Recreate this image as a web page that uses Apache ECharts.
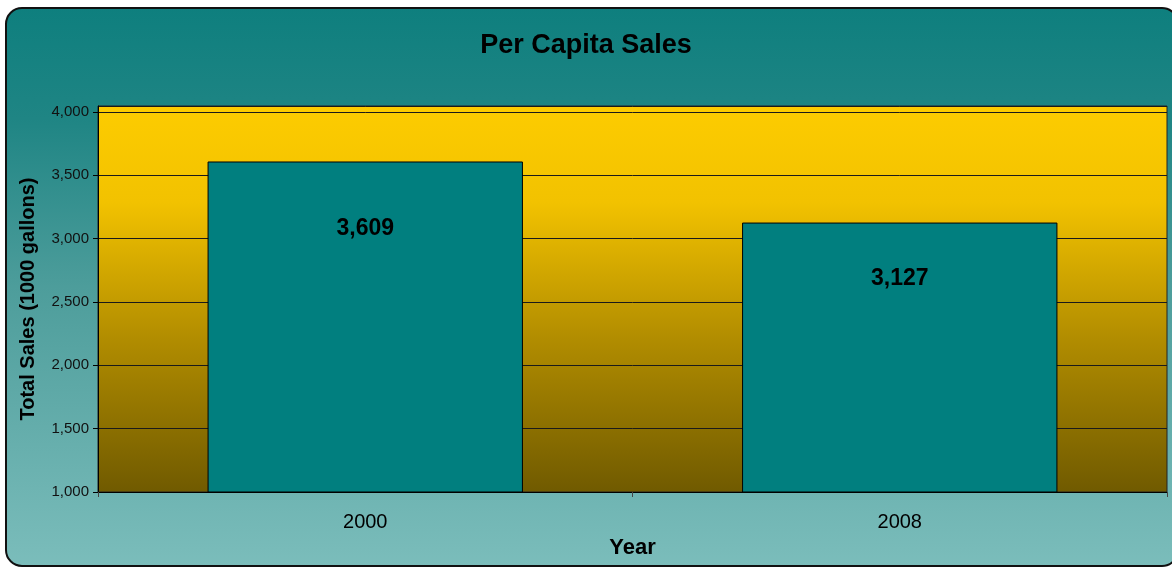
<!DOCTYPE html>
<html>
<head>
<meta charset="utf-8">
<script src="https://cdn.jsdelivr.net/npm/echarts@6/dist/echarts.min.js"></script>
<style>
  html, body { margin: 0; padding: 0; background: #ffffff; }
  #chart { width: 1172px; height: 567px; }
</style>
</head>
<body>
<div id="chart"></div>
<script>
// Per capita sales, in thousands of gallons
const years = ['2000', '2008'];
const sales = [3609, 3127];
const yTicks = { min: 1000, max: 4047, step: 500 };
// label distance below each bar's top edge
const labelGaps = [56, 45];

const chart = echarts.init(document.getElementById('chart'), null, { renderer: 'canvas' });

const fontFamily = 'Arial, "Liberation Sans", sans-serif';

chart.setOption({
  animation: false,
  graphic: [{
    type: 'rect',
    z: -10,
    silent: true,
    shape: { x: 6, y: 8, width: 1172, height: 558, r: 16 },
    style: {
      fill: new echarts.graphic.LinearGradient(0, 0, 0, 1, [
        { offset: 0, color: '#0e7f7e' },
        { offset: 0.2, color: '#1f8584' },
        { offset: 0.5, color: '#4d9d9b' },
        { offset: 1, color: '#7bbdbb' }
      ]),
      stroke: '#111111',
      lineWidth: 2
    }
  }],
  title: {
    text: 'Per Capita Sales',
    left: 'center',
    top: 27,
    textStyle: { fontFamily, fontSize: 27, fontWeight: 'bold', color: '#000000' }
  },
  grid: {
    left: 98,
    right: 5,
    top: 106,
    bottom: 75,
    show: true,
    borderColor: '#222222',
    borderWidth: 1,
    backgroundColor: new echarts.graphic.LinearGradient(0, 0, 0, 1, [
      { offset: 0, color: '#fdcc00' },
      { offset: 0.25, color: '#f2c200' },
      { offset: 0.6, color: '#b28d00' },
      { offset: 1, color: '#705a00' }
    ])
  },
  xAxis: {
    type: 'category',
    data: years,
    name: 'Year',
    nameLocation: 'middle',
    nameGap: 45,
    nameTextStyle: { fontFamily, fontSize: 22, fontWeight: 'bold', color: '#000000' },
    axisLine: { lineStyle: { color: '#000000', width: 1 } },
    axisTick: { show: true, length: 5, lineStyle: { color: '#444444' } },
    axisLabel: { fontFamily, fontSize: 20, color: '#000000', margin: 20 }
  },
  yAxis: {
    type: 'value',
    min: yTicks.min,
    max: yTicks.max,
    interval: yTicks.step,
    name: 'Total Sales (1000 gallons)',
    nameLocation: 'middle',
    nameGap: 60,
    nameTextStyle: { fontFamily, fontSize: 20, fontWeight: 'bold', color: '#000000' },
    axisLine: { show: true, lineStyle: { color: '#000000', width: 1 } },
    axisTick: { show: true, length: 5, inside: false, lineStyle: { color: '#000000' } },
    axisLabel: {
      fontFamily, fontSize: 15, color: '#111111', margin: 9,
      showMaxLabel: false,
      formatter: v => v.toLocaleString('en-US')
    },
    splitLine: { show: true, lineStyle: { color: '#1a1a1a', width: 1 } }
  },
  series: [{
    type: 'bar',
    barWidth: '59%',
    data: sales.map((v, i) => ({
      value: v,
      label: { distance: labelGaps[i] }
    })),
    itemStyle: { color: '#017f7f', borderColor: '#000000', borderWidth: 1 },
    label: {
      show: true,
      position: 'insideTop',
      fontFamily, fontSize: 23, fontWeight: 'bold', color: '#000000',
      formatter: p => p.value.toLocaleString('en-US')
    }
  }]
});
</script>
</body>
</html>
